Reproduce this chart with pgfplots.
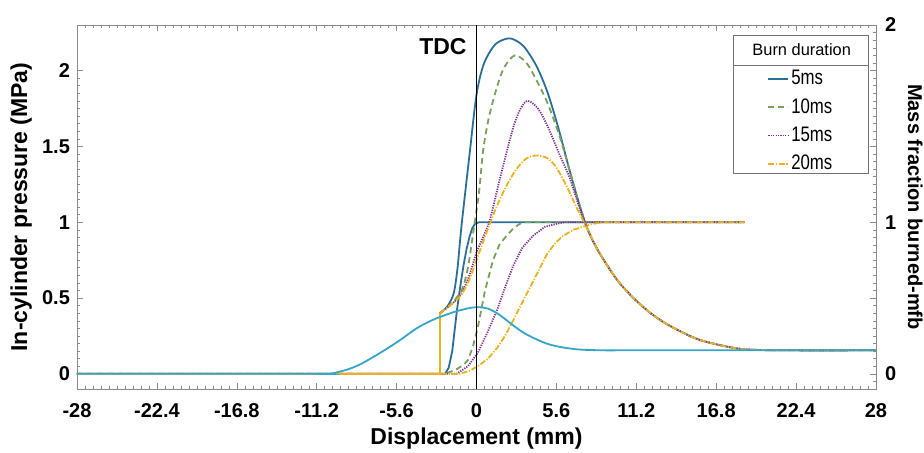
\documentclass[border=0pt]{standalone}
\usepackage{fontspec}
\setmainfont{Liberation Sans}
\newfontfamily\narrowfont[FakeStretch=0.8]{Liberation Sans}
\usepackage{pgfplots}
\pgfplotsset{compat=1.18}
\usetikzlibrary{calc}
\definecolor{cFive}{HTML}{2B6F99}
\definecolor{cMot}{HTML}{34A6C9}
\definecolor{cTen}{HTML}{7BA05B}
\definecolor{cFift}{HTML}{7E2F8E}
\definecolor{cTwen}{HTML}{EDB120}
\definecolor{AxGray}{HTML}{8A8A8A}

\begin{document}
\begin{tikzpicture}
\begin{axis}[
  name=ax, scale only axis, width=399.5pt, height=182pt,
  xmin=-28, xmax=28, ymin=-0.1, ymax=2.3,
  xtick={-28,-22.4,-16.8,-11.2,-5.6,0,5.6,11.2,16.8,22.4,28},
  xticklabels={-28,-22.4,-16.8,-11.2,-5.6,0,5.6,11.2,16.8,22.4,28},
  minor x tick num=9,
  ytick={0,0.5,1,1.5,2}, yticklabels={0,0.5,1,1.5,2},
  minor y tick num=9, ytick pos=left,
  axis line style={draw=AxGray},
  tick style={draw=AxGray},
  major tick length=3pt, minor tick length=1.6pt,
  /pgf/number format/assume math mode=true,
  tick label style={font=\fontsize{10}{12}\selectfont\bfseries},
  xticklabel style={yshift=-3.5pt},
  label style={font=\fontsize{11.5}{13}\selectfont\bfseries},
  xlabel={Displacement (mm)},
  xlabel style={at={(axis description cs:0.5,-0.135)}, anchor=center},
  ylabel={In-cylinder pressure (MPa)},
  ylabel style={at={(axis description cs:-0.070,0.5)}, anchor=center},
  legend style={at={(rel axis cs:0.906,0.735)}, anchor=center, draw=none, fill=none,
    font=\narrowfont\fontsize{10.5}{11}\selectfont, row sep=3.3pt, nodes={inner sep=1pt}},
  legend cell align=left,
  legend image code/.code={\draw[#1] (0pt,0pt) -- (10pt,0pt);},
  every axis plot/.append style={line width=0.9pt},
]
% mass fraction burned (right scale, same numbers)
\addplot[cFive, forget plot] coordinates {(-28,0) (-2.2,0) (-1.95,0.04) (-1.7,0.15) (-1.37,0.42) (-1.1,0.6) (-0.9,0.72) (-0.7,0.82) (-0.5,0.9) (-0.3,0.96) (-0.1,0.99) (0.2,1.0) (18.8,1.0)};
\addplot[cTen, dash pattern=on 3pt off 2pt, forget plot] coordinates {(-28,0) (-2.2,0) (-1.4,0.03) (-0.9,0.06) (-0.6,0.09) (-0.25,0.18) (0.1,0.31) (0.6,0.55) (1.16,0.75) (1.6,0.85) (2.1,0.91) (2.6,0.96) (3.05,0.99) (3.5,1.0) (18.8,1.0)};
\addplot[cFift, dash pattern=on 0.6pt off 0.6pt, forget plot] coordinates {(-28,0) (-1.4,0) (-0.6,0.05) (0.1,0.14) (0.8,0.28) (1.44,0.42) (2.0,0.57) (2.56,0.71) (3.2,0.83) (3.96,0.91) (4.8,0.97) (5.64,0.99) (6.2,1.0) (18.8,1.0)};
\addplot[cTwen, dash pattern=on 3pt off 0.8pt on 0.6pt off 0.8pt, forget plot] coordinates {(-28,0) (-1.2,0) (-0.5,0.02) (0.1,0.05) (0.8,0.1) (1.44,0.17) (2.0,0.25) (2.56,0.35) (3.15,0.46) (3.75,0.57) (4.35,0.68) (4.94,0.79) (5.5,0.86) (6.06,0.91) (6.8,0.95) (7.46,0.97) (8.2,0.99) (9,1.0) (18.8,1.0)};
% in-cylinder pressure: zero line and pressure rise at ignition, shared by all runs
\addplot[cTwen, forget plot] coordinates {(-28,0) (-2.56,0) (-2.56,0.40)};
\addplot[cFive, smooth, tension=0.5] coordinates {(-2.56,0.40) (-2.3,0.42) (-2.0,0.45) (-1.6,0.53) (-1.35,0.68) (-1.15,0.88) (-1.0,1.02) (-0.46,1.47) (0,1.84) (0.5,2.04) (1.2,2.16) (1.8,2.2) (2.45,2.21) (3.3,2.16) (4.2,2.03) (5.0,1.85) (5.8,1.6) (6.5,1.35) (7.2,1.12) (7.8,0.95) (8.6,0.8) (9.85,0.62) (11,0.5) (12.2,0.4) (13.3,0.33) (14.5,0.27) (15.6,0.225) (16.8,0.195) (17.8,0.175) (18.7,0.162) (20,0.157) (22,0.155) (28,0.155)};
\addlegendentry{5ms}
\addplot[cTen, dash pattern=on 3pt off 2pt, smooth, tension=0.5] coordinates {(-2.56,0.40) (-2.3,0.42) (-2.0,0.44) (-1.5,0.49) (-1.0,0.56) (-0.6,0.7) (-0.2,0.95) (0.18,1.2) (0.46,1.47) (0.8,1.66) (1.16,1.8) (1.6,1.94) (2.0,2.03) (2.7,2.1) (3.5,2.05) (4.24,1.93) (5.0,1.78) (5.85,1.56) (6.5,1.35) (7.2,1.12) (7.8,0.95) (8.6,0.8) (9.85,0.62) (11,0.5) (12.2,0.4) (13.3,0.33) (14.5,0.27) (15.6,0.225) (16.8,0.195) (17.8,0.175) (18.7,0.162) (20,0.157) (22,0.155) (28,0.155)};
\addlegendentry{10ms}
\addplot[cFift, dash pattern=on 0.6pt off 0.6pt, smooth, tension=0.5] coordinates {(-2.56,0.40) (-2.3,0.42) (-2.0,0.44) (-1.5,0.48) (-1.0,0.54) (-0.5,0.65) (0,0.8) (0.5,0.91) (0.95,1.02) (1.65,1.29) (2.56,1.62) (3.1,1.75) (3.6,1.8) (4.3,1.75) (5.0,1.63) (5.8,1.45) (6.5,1.3) (7.2,1.1) (7.8,0.95) (8.6,0.8) (9.85,0.62) (11,0.5) (12.2,0.4) (13.3,0.33) (14.5,0.27) (15.6,0.225) (16.8,0.195) (17.8,0.175) (18.7,0.162) (20,0.157) (22,0.155) (28,0.155)};
\addlegendentry{15ms}
\addplot[cTwen, dash pattern=on 3pt off 0.8pt on 0.6pt off 0.8pt, smooth, tension=0.5] coordinates {(-2.56,0.40) (-2.3,0.42) (-2.0,0.44) (-1.5,0.48) (-1.0,0.53) (-0.5,0.62) (0,0.75) (0.7,0.93) (1.4,1.1) (2.1,1.24) (2.8,1.35) (3.5,1.42) (4.24,1.44) (5.0,1.42) (5.6,1.36) (6.3,1.24) (7.1,1.08) (7.8,0.95) (8.6,0.8) (9.85,0.62) (11,0.5) (12.2,0.4) (13.3,0.33) (14.5,0.27) (15.6,0.225) (16.8,0.195) (17.8,0.175) (18.7,0.162) (20,0.157) (22,0.155) (28,0.155)};
\addlegendentry{20ms}
% motoring curve
\addplot[cMot, smooth, tension=0.5, forget plot] coordinates {(-28,0) (-11.5,0) (-10.3,0) (-9,0.03) (-8,0.07) (-6.55,0.15) (-5.4,0.22) (-4.2,0.3) (-3.2,0.35) (-2.56,0.375) (-1.5,0.41) (-0.67,0.43) (0,0.44) (0.8,0.43) (1.6,0.39) (2.56,0.32) (3.5,0.26) (4.9,0.2) (6,0.175) (7.25,0.16) (9,0.155) (11,0.155) (28,0.155)};
% TDC line
\addplot[black, forget plot] coordinates {(0,-0.1) (0,2.3)};
\node[font=\fontsize{11.5}{13}\selectfont\bfseries] at (rel axis cs:0.458,0.94) {TDC};
\node[anchor=south east, inner sep=1.5pt, font=\fontsize{7}{8}\selectfont\bfseries] at (rel axis cs:1,1) {x100\%};
% legend frame with title cell
\draw[black!55, line width=0.5pt, fill=white] (rel axis cs:0.822,0.591) rectangle (rel axis cs:0.991,0.970);
\draw[black!55, line width=0.5pt] (rel axis cs:0.822,0.890) -- (rel axis cs:0.991,0.890);
\node[font=\fontsize{8.2}{10}\selectfont] at (rel axis cs:0.907,0.931) {Burn duration};
\end{axis}
\begin{axis}[
  scale only axis, width=399.5pt, height=182pt,
  xmin=-28, xmax=28, ymin=-0.1, ymax=2.3,
  axis x line=none, axis y line*=right,
  ytick={0,0.5,1,1.5,2,2.3}, yticklabels={0,,1,,,2},
  minor ytick={-0.05,0.05,0.1,0.15,0.2,0.25,0.3,0.35,0.4,0.45,0.55,0.6,0.65,0.7,0.75,0.8,0.85,0.9,0.95,1.05,1.1,1.15,1.2,1.25,1.3,1.35,1.4,1.45,1.55,1.6,1.65,1.7,1.75,1.8,1.85,1.9,1.95,2.05,2.1,2.15,2.2,2.25},
  axis line style={draw=AxGray, -}, tick style={draw=AxGray},
  major tick length=3pt, minor tick length=1.6pt,
  /pgf/number format/assume math mode=true,
  tick label style={font=\fontsize{10}{12}\selectfont\bfseries},
  yticklabel style={xshift=1pt},
  ylabel={Mass fraction burned-mfb},
  ylabel style={at={(axis description cs:1.049,0.5)}, anchor=center, rotate=180,
    font=\fontsize{10}{12}\selectfont\bfseries},
]
\end{axis}
\pgfresetboundingbox
\path[use as bounding box] ($(ax.south west)+(-38.5pt,-31.5pt)$) rectangle ($(ax.north east)+(24pt,12.5pt)$);
\end{tikzpicture}
\end{document}
